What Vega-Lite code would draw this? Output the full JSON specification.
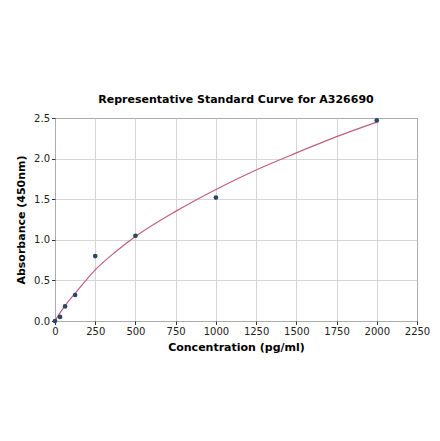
{
  "$schema": "https://vega.github.io/schema/vega-lite/v6.json",
  "autosize": {"type": "none"},
  "padding": {"left": 55, "top": 118, "right": 23, "bottom": 120},
  "width": 362,
  "height": 203,
  "title": {
    "text": "Representative Standard Curve for A326690",
    "font": "DejaVu Sans",
    "fontSize": 11,
    "fontWeight": "bold",
    "color": "#000000",
    "offset": 8
  },
  "datasets": {
    "points": [
      {"conc": 0, "od": 0.0},
      {"conc": 31.25, "od": 0.05},
      {"conc": 62.5, "od": 0.18},
      {"conc": 125, "od": 0.32},
      {"conc": 250, "od": 0.8},
      {"conc": 500, "od": 1.05},
      {"conc": 1000, "od": 1.52},
      {"conc": 2000, "od": 2.47}
    ],
    "curve": [
      {"conc": 0, "od": 0.0},
      {"conc": 15, "od": 0.05},
      {"conc": 31.25, "od": 0.1},
      {"conc": 62.5, "od": 0.19},
      {"conc": 125, "od": 0.34},
      {"conc": 250, "od": 0.63},
      {"conc": 375, "od": 0.85},
      {"conc": 500, "od": 1.04},
      {"conc": 750, "od": 1.35},
      {"conc": 1000, "od": 1.62},
      {"conc": 1250, "od": 1.86},
      {"conc": 1500, "od": 2.07},
      {"conc": 1750, "od": 2.27},
      {"conc": 2000, "od": 2.45}
    ]
  },
  "encoding": {
    "x": {
      "field": "conc",
      "type": "quantitative",
      "title": "Concentration (pg/ml)",
      "scale": {"domain": [0, 2250], "nice": false, "zero": false},
      "axis": {
        "values": [0, 250, 500, 750, 1000, 1250, 1500, 1750, 2000, 2250],
        "format": "d",
        "labelOverlap": false,
        "labelFlush": false
      }
    },
    "y": {
      "field": "od",
      "type": "quantitative",
      "title": "Absorbance (450nm)",
      "scale": {"domain": [0, 2.5], "nice": false},
      "axis": {
        "values": [0, 0.5, 1, 1.5, 2, 2.5],
        "format": ".1f",
        "labelOverlap": false,
        "labelFlush": false
      }
    }
  },
  "layer": [
    {
      "data": {"name": "curve"},
      "mark": {"type": "line", "color": "#c0607f", "strokeWidth": 1.2, "interpolate": "monotone", "clip": true}
    },
    {
      "data": {"name": "points"},
      "mark": {"type": "circle", "color": "#2b4764", "opacity": 1, "size": 22, "clip": false}
    }
  ],
  "config": {
    "view": {"stroke": "#333333", "strokeWidth": 1},
    "axis": {
      "labelFont": "DejaVu Sans",
      "labelFontSize": 10,
      "labelColor": "#222222",
      "titleFont": "DejaVu Sans",
      "titleFontSize": 11,
      "titleFontWeight": "bold",
      "titleColor": "#000000",
      "gridColor": "#cccccc",
      "gridWidth": 0.8,
      "domain": false,
      "tickColor": "#333333",
      "tickSize": 3.5,
      "labelPadding": 2
    },
    "axisX": {"titlePadding": 5},
    "axisY": {"titlePadding": 7}
  }
}
